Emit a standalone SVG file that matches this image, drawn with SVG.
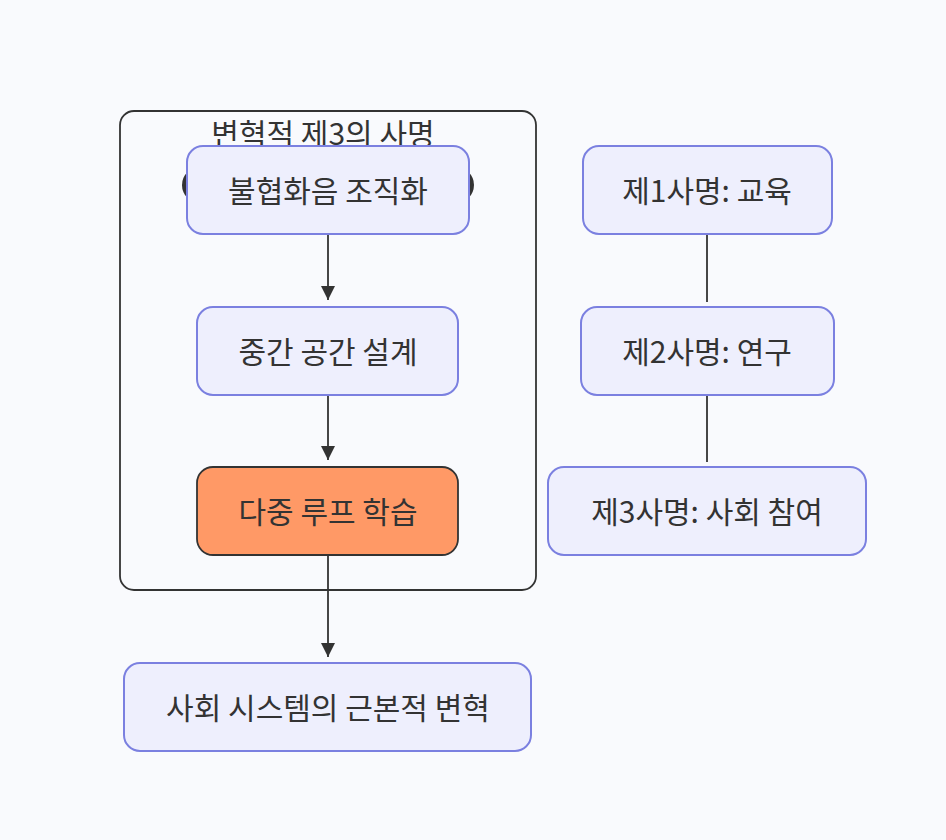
<svg xmlns="http://www.w3.org/2000/svg" width="946" height="840" viewBox="0 0 946 840">
<defs>
<style>
.bg{fill:#f9fafd}
.node rect{fill:#eeeffd;stroke:#7b80e0;stroke-width:2}
.hot rect{fill:#ff9966;stroke:#333;stroke-width:1.8}
.lbl{font-family:"Noto Sans CJK KR","Noto Sans",sans-serif;font-size:30px;fill:#333;text-anchor:middle;dominant-baseline:central}
.edge{stroke:#333;stroke-width:1.8;fill:none}
.cluster{fill:none;stroke:#333;stroke-width:1.8}
</style>
<marker id="arr" viewBox="0 0 10 10" refX="10" refY="5" markerWidth="14" markerHeight="14" markerUnits="userSpaceOnUse" orient="auto">
<path d="M0,0 L10,5 L0,10 z" fill="#333"/>
</marker>
</defs>
<rect class="bg" x="0" y="0" width="946" height="840"/>
<g id="cluster">
<rect class="cluster" x="120" y="111" width="416" height="479" rx="14"/>
<text class="lbl" x="323" y="132">변혁적 제3의 사명</text>
</g>
<g id="connectors">
<path class="edge" d="M328,234 L328,300" marker-end="url(#arr)"/>
<path class="edge" d="M328,395 L328,460" marker-end="url(#arr)"/>
<path class="edge" d="M328,555 L328,657" marker-end="url(#arr)"/>
<path class="edge" d="M707,234 L707,302"/>
<path class="edge" d="M707,395 L707,462"/>
</g>
<g id="shadowA">
<rect x="182" y="167" width="292" height="36" rx="18" fill="#333"/>
</g>
<g id="nA" class="node">
<rect x="187" y="146" width="282" height="88" rx="16"/>
<text class="lbl" x="328" y="189">불협화음 조직화</text>
</g>
<g id="nB" class="node">
<rect x="197" y="307" width="261" height="88" rx="16"/>
<text class="lbl" x="328" y="350">중간 공간 설계</text>
</g>
<g id="nC" class="hot">
<rect x="197" y="467" width="261" height="88" rx="16"/>
<text class="lbl" x="328" y="510">다중 루프 학습</text>
</g>
<g id="nD" class="node">
<rect x="124" y="663" width="407" height="88" rx="16"/>
<text class="lbl" x="328" y="706">사회 시스템의 근본적 변혁</text>
</g>
<g id="m1" class="node">
<rect x="583" y="146" width="249" height="88" rx="16"/>
<text class="lbl" x="707" y="189">제1사명: 교육</text>
</g>
<g id="m2" class="node">
<rect x="581" y="307" width="253" height="88" rx="16"/>
<text class="lbl" x="707" y="350">제2사명: 연구</text>
</g>
<g id="m3" class="node">
<rect x="548" y="467" width="318" height="88" rx="16"/>
<text class="lbl" x="707" y="510">제3사명: 사회 참여</text>
</g>
</svg>
